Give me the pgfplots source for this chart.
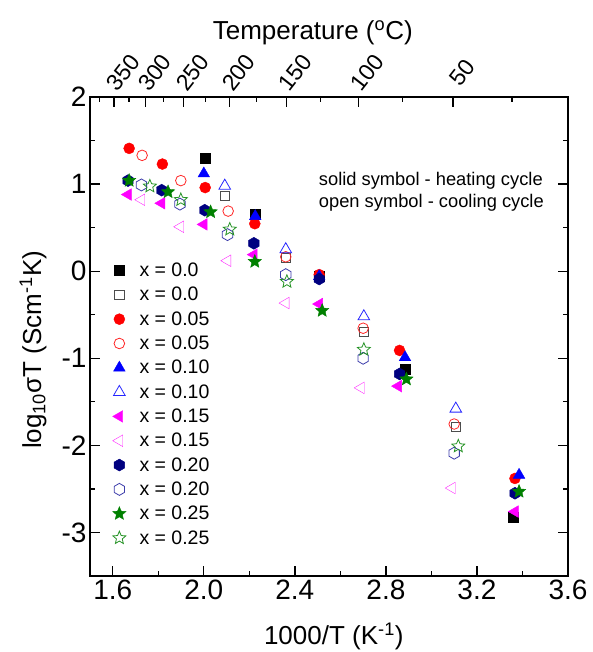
\documentclass[border=0pt]{standalone}
\usepackage{fontspec}
\setmainfont{Liberation Sans}
\usepackage{pgfplots}
\pgfplotsset{compat=1.18}
\definecolor{navyblue}{RGB}{0,0,128}
\definecolor{darkgreen}{RGB}{0,128,0}
\definecolor{hexopen}{RGB}{60,60,170}
\definecolor{pmag}{RGB}{255,0,255}
\definecolor{pred}{RGB}{255,0,0}
\definecolor{pblue}{RGB}{0,0,255}

% hexagon marks, pointy top
\pgfdeclareplotmark{hexagon*}{%
  \pgfpathmoveto{\pgfpointpolar{90}{\pgfplotmarksize}}%
  \pgfpathlineto{\pgfpointpolar{150}{\pgfplotmarksize}}%
  \pgfpathlineto{\pgfpointpolar{210}{\pgfplotmarksize}}%
  \pgfpathlineto{\pgfpointpolar{270}{\pgfplotmarksize}}%
  \pgfpathlineto{\pgfpointpolar{330}{\pgfplotmarksize}}%
  \pgfpathlineto{\pgfpointpolar{30}{\pgfplotmarksize}}%
  \pgfpathclose\pgfusepathqfillstroke}
\pgfdeclareplotmark{hexagon}{%
  \pgfpathmoveto{\pgfpointpolar{90}{\pgfplotmarksize}}%
  \pgfpathlineto{\pgfpointpolar{150}{\pgfplotmarksize}}%
  \pgfpathlineto{\pgfpointpolar{210}{\pgfplotmarksize}}%
  \pgfpathlineto{\pgfpointpolar{270}{\pgfplotmarksize}}%
  \pgfpathlineto{\pgfpointpolar{330}{\pgfplotmarksize}}%
  \pgfpathlineto{\pgfpointpolar{30}{\pgfplotmarksize}}%
  \pgfpathclose\pgfusepathqstroke}
% five-pointed star path
\def\starpath{%
  \pgfpathmoveto{\pgfpointpolar{90}{\pgfplotmarksize}}%
  \pgfpathlineto{\pgfpointpolar{126}{0.45*\pgfplotmarksize}}%
  \pgfpathlineto{\pgfpointpolar{162}{\pgfplotmarksize}}%
  \pgfpathlineto{\pgfpointpolar{198}{0.45*\pgfplotmarksize}}%
  \pgfpathlineto{\pgfpointpolar{234}{\pgfplotmarksize}}%
  \pgfpathlineto{\pgfpointpolar{270}{0.45*\pgfplotmarksize}}%
  \pgfpathlineto{\pgfpointpolar{306}{\pgfplotmarksize}}%
  \pgfpathlineto{\pgfpointpolar{342}{0.45*\pgfplotmarksize}}%
  \pgfpathlineto{\pgfpointpolar{18}{\pgfplotmarksize}}%
  \pgfpathlineto{\pgfpointpolar{54}{0.45*\pgfplotmarksize}}%
  \pgfpathclose}
\pgfdeclareplotmark{fivestar*}{\starpath\pgfusepathqfillstroke}
\pgfdeclareplotmark{fivestar}{\starpath\pgfusepathqstroke}

\pgfplotsset{
  frame/.style={width=478pt,height=479pt,scale only axis,
    xmin=1.5,xmax=3.6,ymin=-3.5,ymax=2,
    tick align=inside,major tick length=10pt,minor tick length=5pt,
    axis line style={line width=1.5pt},
    every tick/.style={line width=1.3pt,black},
    tick label style={font=\fontsize{28}{32}\selectfont},
    label style={font=\fontsize{26}{30}\selectfont}},
  open/.style={only marks,mark options={line width=0.8pt,fill=none}},
  solid/.style={only marks,mark options={line width=0.4pt}}
}

\begin{document}
\begin{tikzpicture}
\useasboundingbox (-90pt,-76pt) rectangle (502pt,576pt);
\begin{axis}[frame,
  xtick={1.6,2.0,2.4,2.8,3.2,3.6},xticklabels={1.6,2.0,2.4,2.8,3.2,3.6},
  minor x tick num=1,xtick pos=lower,xticklabel pos=lower,
  ytick={-3,-2,-1,0,1,2},yticklabels={-3,-2,-1,0,1,2},
  minor y tick num=1,ytick pos=both,yticklabel pos=left,
  xlabel={1000/T (K\textsuperscript{-1})},
  xlabel style={at={(axis description cs:0.51,-0.127)},anchor=center},
  ylabel={log\textsubscript{10}σT (Scm\textsuperscript{-1}K)},
  ylabel style={at={(axis description cs:-0.119,0.472)},anchor=center,rotate=0},
  clip=false,
  legend style={at={(0.047,0.656)},anchor=north west,draw=none,fill=none,
    inner sep=0pt,font=\fontsize{19.5}{23}\selectfont,
    nodes={inner xsep=0.5pt,inner ysep=1pt},row sep=7.2pt,column sep=13pt},
  legend cell align=left]

\addplot[solid,black,mark=square*,mark size=5pt] coordinates {
 (2.004,1.30) (2.224,0.65) (2.507,-0.06) (2.884,-1.13) (3.360,-2.82)};
\addlegendentry{x = 0.0}
\addplot[open,black!70,mark=square,mark size=4.6pt] coordinates {
 (2.092,0.86) (2.360,0.15) (2.703,-0.70) (3.107,-1.79)};
\addlegendentry{x = 0.0}
\addplot[solid,pred,mark=*,mark size=5.5pt] coordinates {
 (1.672,1.41) (1.818,1.23) (2.006,0.96) (2.224,0.545) (2.507,-0.04) (2.860,-0.91) (3.367,-2.38)};
\addlegendentry{x = 0.05}
\addplot[open,pred!85,mark=o,mark size=5.3pt] coordinates {
 (1.729,1.33) (1.899,1.04) (2.107,0.69) (2.360,0.165) (2.700,-0.655) (3.100,-1.755)};
\addlegendentry{x = 0.05}
\addplot[solid,pblue,mark=triangle*,mark size=6.7pt] coordinates {
 (2.000,1.12) (2.226,0.63) (2.507,-0.06) (2.884,-0.99) (3.385,-2.34)};
\addlegendentry{x = 0.10}
\addplot[open,pblue!85,mark=triangle,mark size=6.7pt] coordinates {
 (2.092,0.98) (2.360,0.25) (2.703,-0.52) (3.107,-1.58)};
\addlegendentry{x = 0.10}
\addplot[solid,pmag,mark=triangle*,mark size=6.7pt,mark options={rotate=90}] coordinates {
 (1.667,0.88) (1.814,0.78) (2.000,0.537) (2.220,0.19) (2.507,-0.377) (2.854,-1.32) (3.367,-2.76)};
\addlegendentry{x = 0.15}
\addplot[open,pmag!85,mark=triangle,mark size=6.7pt,mark options={rotate=90}] coordinates {
 (1.726,0.82) (1.897,0.51) (2.104,0.12) (2.360,-0.366) (2.690,-1.34) (3.090,-2.49)};
\addlegendentry{x = 0.15}
\addplot[solid,navyblue,mark=hexagon*,mark size=6pt] coordinates {
 (1.667,1.04) (1.815,0.93) (2.004,0.70) (2.220,0.32) (2.507,-0.09) (2.860,-1.18) (3.367,-2.55)};
\addlegendentry{x = 0.20}
\addplot[open,hexopen,mark=hexagon,mark size=6pt] coordinates {
 (1.726,0.99) (1.895,0.77) (2.104,0.42) (2.360,-0.04) (2.700,-1.00) (3.100,-2.09)};
\addlegendentry{x = 0.20}
\addplot[solid,darkgreen,mark=fivestar*,mark size=7pt] coordinates {
 (1.672,1.04) (1.843,0.91) (2.030,0.68) (2.224,0.11) (2.520,-0.453) (2.890,-1.24) (3.385,-2.53)};
\addlegendentry{x = 0.25}
\addplot[open,darkgreen!85,mark=fivestar,mark size=6.8pt] coordinates {
 (1.763,0.975) (1.899,0.82) (2.114,0.48) (2.365,-0.12) (2.703,-0.90) (3.118,-2.01)};
\addlegendentry{x = 0.25}

\node[anchor=west,align=left,inner sep=0pt,font=\fontsize{18.3}{22}\selectfont]
  at (axis cs:2.505,0.914) {solid symbol - heating cycle\\open symbol - cooling cycle};
\end{axis}

\begin{axis}[frame,hide y axis,
  xtick={1.6048,1.7452,1.9115,2.1135,2.3632,2.6799,3.0945},
  xticklabels={350,300,250,200,150,100,50},
  minor xtick={1.5432,1.6711,1.8243,2.0078,2.2314,2.5116,2.8723,3.3540},
  xtick pos=upper,xticklabel pos=upper,
  xticklabel style={xshift=9pt,yshift=24pt,rotate=52,anchor=center,inner sep=0pt,
    font=\fontsize{23}{26}\selectfont},
  xlabel={Temperature (\textsuperscript{o}C)},
  xlabel style={at={(axis description cs:0.466,1.134)},anchor=center}]
\addplot[draw=none,forget plot] coordinates {(2,0)};
\end{axis}
\end{tikzpicture}
\end{document}
